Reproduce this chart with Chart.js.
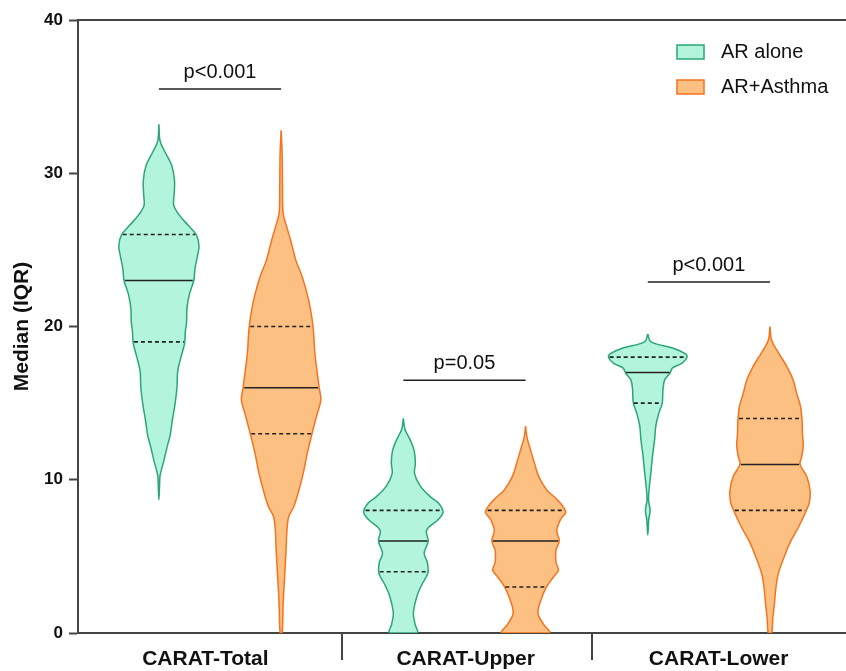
<!DOCTYPE html>
<html>
<head>
<meta charset="utf-8">
<script src="https://cdn.jsdelivr.net/npm/chart.js@4.4.1/dist/chart.umd.min.js"></script>
<style>
  html, body { margin: 0; padding: 0; background: #fff; }
  #wrap { width: 846px; height: 671px; position: relative; }
</style>
</head>
<body>
<div id="wrap"><canvas id="myChart"></canvas></div>
<script>
var categories = ['CARAT-Total', 'CARAT-Upper', 'CARAT-Lower'];
var groups = ['AR alone', 'AR+Asthma'];
var yTicks = [0, 10, 20, 30, 40];

// violin outlines: score (top to bottom) and relative width (1 = widest)
var totalAloneY = [33.2, 32.1, 31.4, 30.5, 29.5, 28.6, 27.9, 27.3, 26.6, 26.0, 25.3, 24.7, 23.8, 23.0, 22.1, 21.2, 20.3, 19.7, 18.9, 18.1, 17.1, 16.0, 14.9, 13.8, 12.9, 12.1, 11.2, 10.3, 9.9, 8.7];
var totalAloneW = [0, 0.03, 0.15, 0.32, 0.39, 0.38, 0.37, 0.5, 0.73, 0.93, 1.0, 0.97, 0.9, 0.87, 0.76, 0.7, 0.69, 0.66, 0.64, 0.56, 0.47, 0.45, 0.4, 0.33, 0.28, 0.2, 0.12, 0.03, 0.02, 0];
var totalAsthmaY = [32.8, 31.3, 29.1, 27.4, 26.5, 25.6, 24.3, 23.5, 22.6, 21.3, 19.9, 18.3, 17.0, 16.0, 15.2, 14.3, 13.0, 11.7, 10.4, 9.1, 8.2, 7.6, 6.7, 5.2, 3.5, 1.9, 0];
var totalAsthmaW = [0, 0.025, 0.035, 0.05, 0.14, 0.24, 0.37, 0.49, 0.6, 0.72, 0.8, 0.84, 0.9, 0.95, 0.99, 0.9, 0.77, 0.65, 0.55, 0.42, 0.31, 0.19, 0.145, 0.12, 0.083, 0.05, 0.025];
var upperAloneY = [14.0, 13.3, 12.6, 11.9, 11.1, 10.4, 9.6, 8.9, 8.5, 7.9, 7.4, 6.7, 6.0, 5.2, 4.6, 3.9, 3.2, 2.4, 1.3, 0.6, 0];
var upperAloneW = [0, 0.04, 0.17, 0.27, 0.3, 0.28, 0.42, 0.67, 0.87, 0.99, 0.87, 0.58, 0.62, 0.52, 0.6, 0.61, 0.47, 0.34, 0.25, 0.29, 0.34];
var upperAsthmaY = [13.5, 12.8, 11.9, 11.1, 10.2, 9.3, 8.7, 7.9, 7.4, 6.7, 6.0, 5.4, 4.6, 4.1, 3.7, 3.0, 2.2, 1.3, 0.6, 0];
var upperAsthmaW = [0, 0.033, 0.13, 0.22, 0.33, 0.54, 0.79, 1.0, 0.87, 0.78, 0.84, 0.76, 0.76, 0.82, 0.71, 0.52, 0.39, 0.31, 0.44, 0.59];
var lowerAloneY = [19.5, 19.0, 18.6, 18.25, 18.0, 17.6, 17.3, 16.95, 16.5, 15.9, 15.0, 14.3, 13.5, 12.6, 11.7, 10.6, 9.6, 8.7, 8.0, 7.4, 6.4];
var lowerAloneW = [0, 0.08, 0.62, 0.92, 0.98, 0.85, 0.62, 0.55, 0.42, 0.38, 0.36, 0.27, 0.2, 0.17, 0.125, 0.083, 0.042, 0.018, 0.058, 0.025, 0];
var lowerAsthmaY = [20.0, 19.1, 18.25, 17.4, 16.5, 15.6, 14.8, 13.9, 13.0, 12.2, 11.5, 11.0, 10.2, 9.3, 8.5, 7.9, 6.9, 5.9, 4.8, 3.9, 3.0, 1.9, 0.85, 0];
var lowerAsthmaW = [0, 0.042, 0.22, 0.42, 0.58, 0.67, 0.76, 0.8, 0.81, 0.83, 0.79, 0.75, 0.92, 1.0, 0.98, 0.89, 0.71, 0.5, 0.33, 0.21, 0.15, 0.11, 0.067, 0.042];

// median and IQR per category
var aloneMedian = [23, 6, 17];
var aloneQ1 = [19, 4, 15];
var aloneQ3 = [26, 8, 18];
var asthmaMedian = [16, 6, 11];
var asthmaQ1 = [13, 3, 8];
var asthmaQ3 = [20, 8, 14];

var pLabels = ['p<0.001', 'p=0.05', 'p<0.001'];
var pHeights = [35.5, 16.5, 22.9];

// x positions (category units)
var aloneX = [0.25, 1.25, 2.25];
var asthmaX = [0.75, 1.75, 2.75];
var labelX = [0.44, 1.505, 2.54];
var separatorX = [1, 2.02];
var halfMax = 0.164;

var fills = ['#b3f5dc', '#fdc083'];
var edges = ['#2ba676', '#f5731f'];
var fontFamily = '"Liberation Sans", Arial, sans-serif';

Chart.defaults.font.family = fontFamily;

function outline(cx, ys, ws) {
    var pts = [];
    for (var i = 0; i < ys.length; i++) {
        pts.push({x: cx + ws[i] * halfMax, y: ys[i]});
    }
    for (var j = ys.length - 1; j >= 0; j--) {
        if (ws[j] === 0) continue;
        pts.push({x: cx - ws[j] * halfMax, y: ys[j]});
    }
    pts.push({x: cx + ws[0] * halfMax, y: ys[0]});
    return pts;
}

function widthAt(ys, ws, v) {
    for (var i = 0; i < ys.length - 1; i++) {
        if (v <= ys[i] && v >= ys[i + 1]) {
            var t = (ys[i] - v) / (ys[i] - ys[i + 1]);
            return ws[i] + t * (ws[i + 1] - ws[i]);
        }
    }
    return 0;
}

var aloneShapes = [[totalAloneY, totalAloneW], [upperAloneY, upperAloneW], [lowerAloneY, lowerAloneW]];
var asthmaShapes = [[totalAsthmaY, totalAsthmaW], [upperAsthmaY, upperAsthmaW], [lowerAsthmaY, lowerAsthmaW]];

var datasets = [];
for (var k = 0; k < categories.length; k++) {
    datasets.push({
        label: groups[0], data: outline(aloneX[k], aloneShapes[k][0], aloneShapes[k][1]),
        showLine: true, fill: 'shape', backgroundColor: fills[0], borderColor: edges[0],
        borderWidth: 1.5, tension: 0.35, pointRadius: 0, order: 2
    });
    datasets.push({
        label: groups[1], data: outline(asthmaX[k], asthmaShapes[k][0], asthmaShapes[k][1]),
        showLine: true, fill: 'shape', backgroundColor: fills[1], borderColor: edges[1],
        borderWidth: 1.5, tension: 0.35, pointRadius: 0, order: 2
    });
}

function statLine(cx, shape, v, dashed) {
    var w = widthAt(shape[0], shape[1], v) * halfMax * 0.97;
    return {
        data: [{x: cx - w, y: v}, {x: cx + w, y: v}],
        showLine: true, fill: false, borderColor: '#222', borderWidth: 1.6,
        borderDash: dashed ? [4, 3] : [], pointRadius: 0, order: 1
    };
}

for (var m = 0; m < categories.length; m++) {
    datasets.push(statLine(aloneX[m], aloneShapes[m], aloneMedian[m], false));
    datasets.push(statLine(aloneX[m], aloneShapes[m], aloneQ1[m], true));
    datasets.push(statLine(aloneX[m], aloneShapes[m], aloneQ3[m], true));
    datasets.push(statLine(asthmaX[m], asthmaShapes[m], asthmaMedian[m], false));
    datasets.push(statLine(asthmaX[m], asthmaShapes[m], asthmaQ1[m], true));
    datasets.push(statLine(asthmaX[m], asthmaShapes[m], asthmaQ3[m], true));
    // significance bar
    datasets.push({
        data: [{x: aloneX[m], y: pHeights[m]}, {x: asthmaX[m], y: pHeights[m]}],
        showLine: true, fill: false, borderColor: '#222', borderWidth: 1.5, pointRadius: 0, order: 1
    });
}

var extras = {
    id: 'extras',
    afterDatasetsDraw: function(chart) {
        var ctx = chart.ctx;
        var xs = chart.scales.x, ys = chart.scales.y;
        ctx.save();
        ctx.fillStyle = '#111';
        ctx.font = '20px ' + fontFamily;
        ctx.textAlign = 'center';
        ctx.textBaseline = 'alphabetic';
        for (var i = 0; i < pLabels.length; i++) {
            var px = xs.getPixelForValue((aloneX[i] + asthmaX[i]) / 2);
            var py = ys.getPixelForValue(pHeights[i]) - 11;
            ctx.fillText(pLabels[i], px, py);
        }
        ctx.restore();
    },
    afterDraw: function(chart) {
        var ctx = chart.ctx, area = chart.chartArea;
        var xs = chart.scales.x;
        ctx.save();
        // category separators under the axis
        ctx.strokeStyle = '#444';
        ctx.lineWidth = 2;
        separatorX.forEach(function(v) {
            var px = Math.round(xs.getPixelForValue(v));
            ctx.beginPath();
            ctx.moveTo(px, area.bottom);
            ctx.lineTo(px, area.bottom + 27);
            ctx.stroke();
        });
        // legend in the top right corner
        var lx = area.right - 169, ly = area.top + 25;
        ctx.font = '20px ' + fontFamily;
        ctx.textAlign = 'left';
        ctx.textBaseline = 'middle';
        groups.forEach(function(name, i) {
            var yy = ly + i * 35;
            ctx.fillStyle = fills[i];
            ctx.fillRect(lx, yy, 27, 14);
            ctx.strokeStyle = edges[i];
            ctx.lineWidth = 1.5;
            ctx.strokeRect(lx, yy, 27, 14);
            ctx.fillStyle = '#111';
            ctx.fillText(name, lx + 44, yy + 7);
        });
        ctx.restore();
    }
};

var ctx = document.getElementById('myChart').getContext('2d');
var myChart = new Chart(ctx, {
    type: 'scatter',
    data: { datasets: datasets },
    options: {
        responsive: true,
        maintainAspectRatio: false,
        animation: false,
        events: [],
        layout: { padding: 0 },
        plugins: { legend: { display: false }, tooltip: { enabled: false } },
        scales: {
            x: {
                type: 'linear', position: 'bottom', min: -0.081, max: 3.061,
                afterBuildTicks: function(axis) {
                    axis.ticks = labelX.map(function(v) { return {value: v}; });
                },
                ticks: {
                    autoSkip: false, maxRotation: 0, padding: 14, color: '#111',
                    font: { size: 21, weight: 'bold' },
                    callback: function(value, index) { return categories[index]; }
                },
                grid: { display: false, drawTicks: false },
                border: { color: '#444', width: 2 },
                afterFit: function(axis) { axis.height = 38; }
            },
            x2: {
                type: 'linear', position: 'top', min: -0.081, max: 3.061,
                ticks: { display: false },
                grid: { display: false, drawTicks: false },
                border: { display: true, color: '#444', width: 2 },
                afterFit: function(axis) { axis.height = 20; }
            },
            y: {
                min: 0, max: 40,
                afterBuildTicks: function(axis) {
                    axis.ticks = yTicks.map(function(v) { return {value: v}; });
                },
                ticks: { padding: 6, color: '#111', font: { size: 17, weight: 'bold' } },
                grid: { drawOnChartArea: false, tickLength: 9, tickColor: '#444', tickWidth: 2 },
                border: { color: '#444', width: 2 },
                title: {
                    display: true, text: 'Median (IQR)', color: '#111',
                    font: { size: 21, weight: 'bold' }, padding: { top: 10, bottom: 0 }
                },
                afterFit: function(axis) { axis.width = 78; }
            }
        }
    },
    plugins: [extras]
});
</script>
</body>
</html>
